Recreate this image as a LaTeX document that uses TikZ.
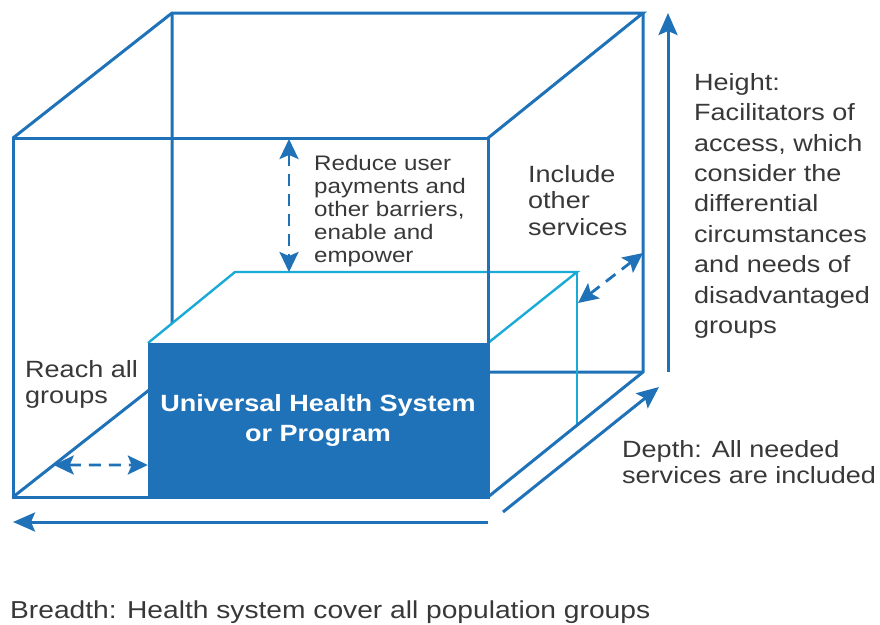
\documentclass[tikz,border=0pt]{standalone}
\usepackage{fontspec}
\setmainfont[FakeStretch=1.15]{Liberation Sans}
\usetikzlibrary{arrows.meta}
\definecolor{ink}{HTML}{383838}
\definecolor{cube}{HTML}{1F72B8}
\definecolor{sky}{HTML}{1AAAD6}
\tikzset{
  edge/.style={cube,line width=3pt},
  rim/.style={sky,line width=2.4pt},
  dim/.style={cube,line width=3pt,-{Stealth[length=22pt,width=19pt,inset=4pt]}},
  gap/.style={cube,line width=2.8pt,dash pattern=on 12pt off 8pt,
    {Stealth[length=20pt,width=19pt,inset=4pt]}-{Stealth[length=20pt,width=19pt,inset=4pt]}},
  lbl/.style={anchor=north west,inner sep=0pt,align=left,text=ink},
  mid/.style={font=\fontsize{23.5}{26.6}\selectfont}
}
\begin{document}
\begin{tikzpicture}[x=1pt,y=-1pt]
  \useasboundingbox (0,0) rectangle (880,624);
  % outer box, front and back faces
  \coordinate (f1) at (13,138);  \coordinate (f2) at (488,138);
  \coordinate (f3) at (488,497); \coordinate (f4) at (13,497);
  \coordinate (b1) at (172,13);  \coordinate (b2) at (643,13);
  \coordinate (b3) at (643,372); \coordinate (b4) at (172,372);
  % inner box, back corners
  \coordinate (i1) at (148,343);
  \coordinate (j1) at (235,272); \coordinate (j2) at (577,272);
  \coordinate (j3) at (577,425);
  % hidden edges of the outer box
  \draw[edge] (b1) -- (intersection of b1--b4 and i1--j1);
  \draw[edge] (f4) -- (b4) -- (b3);
  % inner box outline
  \draw[rim] (i1) -- (j1) -- (j2) -- (488,343);
  \draw[rim] (j2) -- (j3);
  % visible edges of the outer box
  \draw[edge] (f1) rectangle (f3);
  \draw[edge] (f1) -- (b1) -- (b2) -- (f2);
  \draw[edge] (b2) -- (b3) -- (f3);
  % the programme itself
  \node[fill=cube,minimum width=340pt,minimum height=154pt,inner sep=0pt,
        text=white,align=center,font=\bfseries\fontsize{23.5}{30}\selectfont]
    (prog) at (318,420) {Universal Health System\\or Program};

  % dimension arrows
  \coordinate (h0) at (668,372); \coordinate (h1) at (668,13);
  \coordinate (d0) at (503,512); \coordinate (d1) at (659,387);
  \coordinate (w0) at (488,522); \coordinate (w1) at (13,522);
  \draw[dim] (h0) -- (h1);
  \draw[dim] (d0) -- (d1);
  \draw[dim] (w0) -- (w1);

  % dashed gaps between the boxes
  \coordinate (r0) at (intersection of f4--b4 and 0,465--100,465);
  \coordinate (r1) at (prog.west |- 0,465);
  \coordinate (u0) at (289,139); \coordinate (u1) at (289,272);
  \coordinate (s0) at (578,303); \coordinate (s1) at (643,253);
  \draw[gap] (r0) -- (r1);
  \draw[gap] (u0) -- (u1);
  \draw[gap] (s0) -- (s1);

  % labels
  \node[lbl,font=\fontsize{23.5}{30.4}\selectfont] (height) at (694,73)
    {Height:\\Facilitators of\\access, which\\consider the\\differential\\circumstances\\and needs of\\disadvantaged\\groups};
  \node[lbl,font=\fontsize{21}{23}\selectfont] (reduce) at (314,155)
    {Reduce user\\payments and\\other barriers,\\enable and\\empower};
  \node[lbl,mid] (include) at (528,165) {Include\\other\\services};
  \node[lbl,mid] (depth) at (622,440) {Depth: All needed\\services are included};
  \node[lbl,mid] (reach) at (25,360) {Reach all\\groups};
  \node[lbl,font=\fontsize{24.5}{28}\selectfont] (breadth) at (10,601)
    {Breadth: Health system cover all population groups};
\end{tikzpicture}
\end{document}
